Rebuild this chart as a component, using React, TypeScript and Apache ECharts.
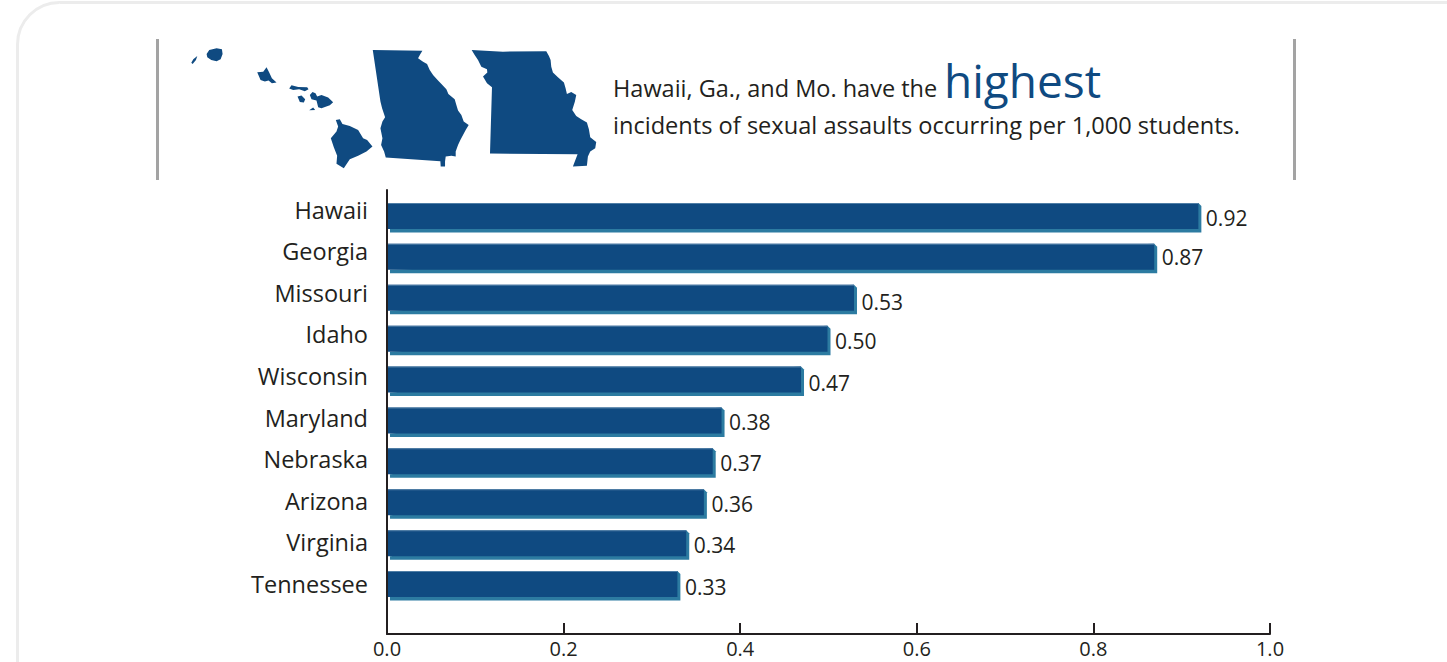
import React, { useEffect, useRef } from "react";
import * as echarts from "echarts";

const states = ["Hawaii", "Georgia", "Missouri", "Idaho", "Wisconsin", "Maryland", "Nebraska", "Arizona", "Virginia", "Tennessee"];
const incidents = [0.92, 0.87, 0.53, 0.5, 0.47, 0.38, 0.37, 0.36, 0.34, 0.33];
const valueLabels = ["0.92", "0.87", "0.53", "0.50", "0.47", "0.38", "0.37", "0.36", "0.34", "0.33"];
const labelNudges = [1, -1, 3, 1, 2, 1, 1, 1, 1, 2];
const axisTicks = ["0.0", "0.2", "0.4", "0.6", "0.8", "1.0"];

const FONT = "'Open Sans', 'Noto Sans', sans-serif";
const NAVY = "#0f4a81";
const TEAL = "#2c7ba1";
const EDGE = "#4f7ea6";
const INK = "#231f20";

const hawaiiPath =
  "M124 98 L130 88 L142 78 L138 90 L128 102 Z M170 72 L178 60 L200 55 L216 58 L218 72 L212 88 L200 94 L184 90 L172 82 Z M322 127 L340 125 L350 112 L358 128 L366 145 L380 158 L366 160 L356 152 L345 155 L332 150 Z M418 176 L425 166 L445 171 L472 172 L476 178 L465 184 L448 178 L430 180 Z M443 200 L455 197 L466 208 L462 218 L450 216 Z M480 195 L488 186 L497 190 L502 200 L515 195 L535 203 L550 217 L540 226 L515 235 L505 232 L500 212 L485 208 Z M478 241 L490 233 L496 240 Z M558 270 L570 268 L578 282 L600 288 L625 300 L640 325 L652 330 L668 350 L650 365 L625 378 L600 388 L582 415 L560 402 L562 378 L552 352 L543 325 L560 305 L565 290 Z";
const georgiaPath =
  "M669 60 L818 62 L812 72 L805 85 L820 95 L832 102 L840 120 L850 135 L865 152 L878 165 L890 178 L896 192 L915 208 L920 225 L925 242 L935 255 L942 275 L957 285 L948 300 L940 315 L932 330 L925 345 L918 365 L918 380 L905 378 L888 380 L886 395 L886 410 L873 410 L872 394 L708 383 L703 365 L694 345 L698 325 L692 295 L698 275 L706 262 L697 235 L692 215 Z";
const missouriPath =
  "M966 60 L1060 65 L1190 64 L1198 78 L1203 90 L1205 110 L1210 128 L1225 142 L1243 158 L1248 175 L1252 192 L1265 186 L1280 195 L1276 215 L1268 240 L1280 258 L1295 268 L1312 278 L1318 298 L1322 322 L1340 336 L1337 355 L1322 365 L1315 380 L1312 408 L1270 410 L1284 373 L1021 371 L1027 172 L1012 160 L1000 140 L1013 128 L1012 118 L995 110 L985 90 L975 75 Z";

echarts.graphic.registerShape("hawaiiShape", echarts.graphic.extendPath(hawaiiPath, {}));
echarts.graphic.registerShape("georgiaShape", echarts.graphic.extendPath(georgiaPath, {}));
echarts.graphic.registerShape("missouriShape", echarts.graphic.extendPath(missouriPath, {}));

const renderBar = (params: any, api: any) => {
  const i = api.value(1);
  const start = api.coord([0, i]);
  const end = api.coord([api.value(0), i]);
  const x0 = start[0] + 1;
  const x1 = end[0] + 2;
  const top = start[1] - 14;
  const bottom = start[1] + 15.5;
  const face = bottom - 3.5;
  return {
    type: "group",
    children: [
      {
        type: "polygon",
        shape: { points: [[x0 + 2, face], [x1 - 3, top], [x1, top + 3], [x1, bottom], [x0 + 2, bottom]] },
        style: { fill: TEAL },
      },
      { type: "rect", shape: { x: x0, y: top, width: x1 - 3 - x0, height: face - top }, style: { fill: NAVY } },
      { type: "rect", shape: { x: x0, y: top, width: x1 - 3 - x0, height: 1 }, style: { fill: EDGE } },
      {
        type: "text",
        style: {
          text: valueLabels[i],
          x: x1 + 4.5,
          y: start[1] + labelNudges[i],
          align: "left",
          verticalAlign: "middle",
          fill: INK,
          font: `21px ${FONT}`,
        },
      },
    ],
  };
};

const MAP = { x: 150, y: 30, scaleX: 1 / 3, scaleY: 1 / 3, style: { fill: NAVY } };

export default function App() {
  const ref = useRef<HTMLDivElement>(null);
  useEffect(() => {
    const chart = echarts.init(ref.current!, undefined, { renderer: "svg" });
    chart.setOption({
      animation: false,
      backgroundColor: "#ffffff",
      grid: [
        { left: 387, width: 883, top: 190, height: 444 },
        { left: 387, width: 883, top: 196.5, height: 409 },
        { left: 387, width: 883, top: 189, height: 415.5 },
      ],
      xAxis: [
        {
          gridIndex: 0,
          type: "value",
          min: 0,
          max: 1,
          interval: 0.2,
          axisLine: { show: true, lineStyle: { color: INK, width: 2 } },
          axisTick: { show: true, inside: true, length: 11, lineStyle: { color: INK, width: 2 } },
          axisLabel: {
            color: INK,
            fontFamily: FONT,
            fontSize: 20,
            margin: 4,
            formatter: (v: number) => axisTicks[Math.round(v * 5)],
          },
          splitLine: { show: false },
        },
        { gridIndex: 1, type: "value", min: 0, max: 1, show: false },
        { gridIndex: 2, type: "value", min: 0, max: 1, show: false },
      ],
      yAxis: [
        {
          gridIndex: 0,
          type: "value",
          min: 0,
          max: 1,
          axisLine: { show: true, lineStyle: { color: INK, width: 2 } },
          axisTick: { show: false },
          axisLabel: { show: false },
          splitLine: { show: false },
        },
        { gridIndex: 1, type: "category", inverse: true, data: states, show: false },
        {
          gridIndex: 2,
          type: "category",
          inverse: true,
          data: states,
          axisLine: { show: false },
          axisTick: { show: false },
          axisLabel: { color: INK, fontFamily: FONT, fontSize: 23.5, margin: 19 },
        },
      ],
      series: [
        {
          type: "custom",
          xAxisIndex: 1,
          yAxisIndex: 1,
          renderItem: renderBar,
          encode: { x: 0, y: 1 },
          data: incidents.map((v, i) => [v, i]),
          clip: false,
        },
      ],
      graphic: [
        { type: "rect", shape: { x: 17.5, y: 2.5, width: 1470, height: 720, r: 42 }, style: { fill: "none", stroke: "#ececec", lineWidth: 3 }, z: -10 },
        { type: "rect", shape: { x: 156, y: 39, width: 3, height: 141 }, style: { fill: "#a3a3a3" } },
        { type: "rect", shape: { x: 1293, y: 39, width: 3, height: 141 }, style: { fill: "#a3a3a3" } },
        { type: "hawaiiShape", ...MAP },
        { type: "georgiaShape", ...MAP },
        { type: "missouriShape", ...MAP },
        { type: "text", x: 613, y: 88, style: { text: "Hawaii, Ga., and Mo. have the", font: `23.5px ${FONT}`, fill: INK, verticalAlign: "middle" } },
        { type: "text", x: 944, y: 80, style: { text: "highest", font: `46px ${FONT}`, fill: NAVY, verticalAlign: "middle" } },
        { type: "text", x: 613, y: 125, style: { text: "incidents of sexual assaults occurring per 1,000 students.", font: `23.6px ${FONT}`, fill: INK, verticalAlign: "middle" } },
      ],
    });
    return () => chart.dispose();
  }, []);
  return <div ref={ref} style={{ position: "absolute", left: 0, top: 0, width: 1447, height: 662 }} />;
}
